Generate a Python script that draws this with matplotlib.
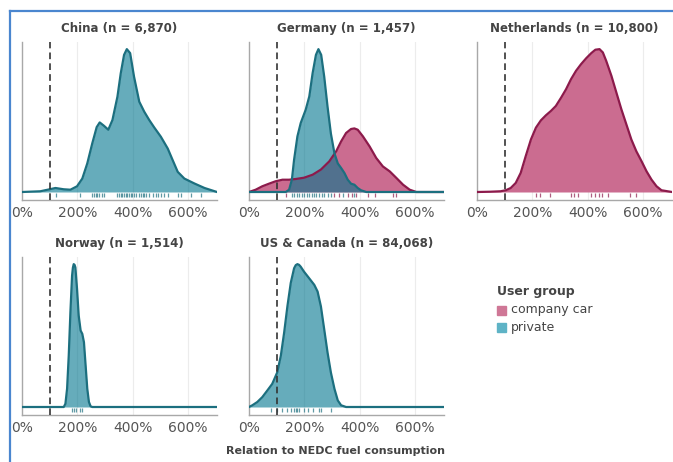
import matplotlib.pyplot as plt
from matplotlib.lines import Line2D
from matplotlib.patches import Rectangle

COMPANY_FILL = "#cb6c90"
COMPANY_EDGE = "#8c1a4b"
PRIVATE_FILL = "#00758e"
PRIVATE_EDGE = "#1c6f7f"
TEXT = "#444444"

# density curves (x in % of NEDC, y scaled so each panel peaks at 1)
china_x = [0, 66, 100, 121, 151, 175, 199, 218, 236, 254, 270, 281, 296, 312, 327, 345,
           357, 369, 379, 391, 405, 424, 442, 460, 478, 502, 527, 545, 563, 587, 624, 660, 705]
china_private = [0.0, 0.005, 0.019, 0.028, 0.019, 0.016, 0.04, 0.094, 0.2, 0.34, 0.454, 0.487,
                 0.464, 0.436, 0.504, 0.667, 0.831, 0.96, 1.0, 0.972, 0.808, 0.632, 0.562, 0.504,
                 0.452, 0.387, 0.304, 0.222, 0.141, 0.094, 0.059, 0.028, 0.0]

germany_private_x = [0, 133, 145, 155, 163, 175, 187, 205, 218, 230, 242, 251, 261, 272, 284,
                     296, 309, 321, 333, 345, 357, 369, 381, 393, 405, 424, 705]
germany_private = [0.0, 0.0, 0.016, 0.086, 0.226, 0.389, 0.483, 0.576, 0.669, 0.832, 0.96, 1.0,
                   0.96, 0.807, 0.597, 0.41, 0.27, 0.2, 0.168, 0.133, 0.086, 0.058, 0.051, 0.028,
                   0.012, 0.0, 0.0]
germany_company_x = [0, 24, 48, 72, 96, 121, 145, 169, 199, 230, 260, 290, 315, 333, 351, 369,
                     381, 393, 412, 436, 460, 484, 509, 533, 557, 581, 605, 705]
germany_company = [0.0, 0.016, 0.04, 0.058, 0.075, 0.086, 0.086, 0.091, 0.1, 0.121, 0.157, 0.214,
                   0.284, 0.354, 0.413, 0.441, 0.445, 0.436, 0.389, 0.319, 0.238, 0.179, 0.144,
                   0.098, 0.051, 0.016, 0.0, 0.0]

netherlands_x = [0, 49, 85, 104, 122, 140, 158, 176, 195, 213, 231, 249, 267, 285, 304, 322,
                 340, 358, 376, 395, 413, 428, 443, 455, 467, 486, 504, 522, 540, 558, 576, 595,
                 613, 631, 649, 667, 705]
netherlands_company = [0.0, 0.002, 0.005, 0.012, 0.028, 0.063, 0.133, 0.249, 0.366, 0.448, 0.499,
                       0.534, 0.564, 0.599, 0.657, 0.716, 0.786, 0.844, 0.89, 0.932, 0.967, 0.991,
                       0.995, 0.972, 0.914, 0.809, 0.692, 0.576, 0.471, 0.366, 0.284, 0.214,
                       0.144, 0.086, 0.04, 0.012, 0.0]

norway_x = [0, 151, 157, 163, 169, 175, 181, 184, 187, 190, 193, 199, 205, 212, 218, 224, 230,
            236, 242, 248, 254, 705]
norway_private = [0.0, 0.0, 0.023, 0.128, 0.36, 0.663, 0.919, 0.975, 1.0, 0.995, 0.977, 0.826,
                  0.64, 0.535, 0.512, 0.453, 0.291, 0.128, 0.035, 0.005, 0.0, 0.0]

us_x = [0, 12, 30, 48, 66, 84, 102, 115, 127, 139, 151, 163, 169, 175, 181, 187, 199, 218, 236,
        248, 260, 272, 284, 296, 309, 321, 333, 351, 705]
us_private = [0.0, 0.012, 0.035, 0.069, 0.115, 0.162, 0.242, 0.358, 0.52, 0.707, 0.869, 0.971,
              0.993, 1.0, 0.995, 0.982, 0.947, 0.9, 0.855, 0.808, 0.704, 0.543, 0.381, 0.242,
              0.127, 0.046, 0.012, 0.0, 0.0]

# individual vehicles shown as rug ticks
china_rug_private = [124, 209, 254, 260, 266, 272, 278, 290, 296, 345, 351, 357, 363, 369, 375,
                     381, 387, 393, 399, 405, 411, 424, 430, 436, 442, 448, 460, 472, 484, 490,
                     502, 515, 527, 563, 575, 612, 648]
germany_rug_private = [155, 163, 172, 181, 190, 199, 208, 218, 226, 236, 244, 254, 264, 272,
                       284, 296, 341, 381]
germany_rug_company = [135, 308, 327, 357, 373, 387, 430, 454, 520, 533]
netherlands_rug_company = [213, 227, 265, 340, 352, 364, 413, 427, 441, 452, 473, 552, 576]
norway_rug_private = [181, 187, 194, 209, 218]
us_rug_private = [78, 102, 121, 139, 151, 163, 169, 175, 181, 199, 212, 230, 254, 260, 297]

panels = [
    ("China (n = 6,870)", [], [(china_x, china_private, china_rug_private)]),
    ("Germany (n = 1,457)",
     [(germany_company_x, germany_company, germany_rug_company)],
     [(germany_private_x, germany_private, germany_rug_private)]),
    ("Netherlands (n = 10,800)",
     [(netherlands_x, netherlands_company, netherlands_rug_company)], []),
    ("Norway (n = 1,514)", [], [(norway_x, norway_private, norway_rug_private)]),
    ("US & Canada (n = 84,068)", [], [(us_x, us_private, us_rug_private)]),
]

W, H = 673, 462
fig = plt.figure(figsize=(W / 100, H / 100), dpi=100)
fig.patch.set_facecolor("white")

col_left = [22, 249, 477]
row_top = [42, 257]
ax_w, ax_h = 195, 158

for i, (title, company, private) in enumerate(panels):
    r, c = divmod(i, 3)
    ax = fig.add_axes([col_left[c] / W, 1 - (row_top[r] + ax_h) / H, ax_w / W, ax_h / H])
    top = max(max(y) for _, y, _ in company + private)

    for x in (200, 400, 600):
        ax.axvline(x, color="#ececec", lw=0.8, zorder=0)
    ax.axvline(100, color="#333333", lw=1.2, ls=(0, (4, 2.5)), zorder=5)

    for x, y, rug in company:
        ax.fill_between(x, 0, y, color=COMPANY_FILL, lw=0, zorder=1)
        ax.plot(x, y, color=COMPANY_EDGE, lw=1.6, zorder=3, solid_joinstyle="round")
        ax.vlines(rug, -0.038 * top, -0.01 * top, color=COMPANY_EDGE, lw=0.9, alpha=0.7)
    for x, y, rug in private:
        ax.fill_between(x, 0, y, color=PRIVATE_FILL, alpha=0.6, lw=0, zorder=2)
        ax.plot(x, y, color=PRIVATE_EDGE, lw=1.6, zorder=4, solid_joinstyle="round")
        ax.vlines(rug, -0.038 * top, -0.01 * top, color=PRIVATE_EDGE, lw=0.9, alpha=0.7)

    ax.set_xlim(0, 705)
    ax.set_ylim(-0.056 * top, 1.05 * top)
    ax.set_yticks([])
    ax.set_xticks([0, 200, 400, 600])
    ax.set_xticklabels(["0%", "200%", "400%", "600%"])
    ax.tick_params(axis="x", length=0, pad=4, labelsize=10, labelcolor="#555555")
    for side in ("top", "right"):
        ax.spines[side].set_visible(False)
    for side in ("left", "bottom"):
        ax.spines[side].set_color("#a8a8a8")
        ax.spines[side].set_linewidth(1.0)
    ax.set_title(title, fontsize=8.5, fontweight="bold", color=TEXT, pad=7)

fig.text(336 / W, 1 - 451 / H, "Relation to NEDC fuel consumption", ha="center", va="center",
         fontsize=8, fontweight="bold", color=TEXT)

# legend for the user groups
fig.text(497 / W, 1 - 292 / H, "User group", ha="left", va="center",
         fontsize=9, fontweight="bold", color=TEXT)
for k, (label, color) in enumerate([("company car", "#cf7796"), ("private", "#5eb3c6")]):
    yc = 310 + 17 * k
    fig.add_artist(Rectangle((497 / W, 1 - (yc + 4.5) / H), 9 / W, 9 / H,
                             transform=fig.transFigure, color=color))
    fig.text(511 / W, 1 - yc / H, label, ha="left", va="center", fontsize=9, color=TEXT)

# outer frame
frame = dict(color="#4a86cf", lw=1.6, transform=fig.transFigure)
fig.add_artist(Line2D([10 / W, 1], [1 - 10.5 / H, 1 - 10.5 / H], **frame))
fig.add_artist(Line2D([10 / W, 10 / W], [0, 1 - 10.5 / H], **frame))

fig.savefig("out.png", dpi=100)
